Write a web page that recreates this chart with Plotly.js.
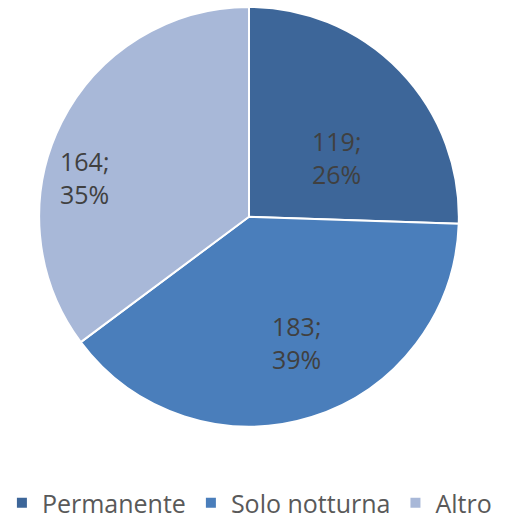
<!DOCTYPE html>
<html><head><meta charset="utf-8">
<script src="https://cdn.plot.ly/plotly-3.0.1.min.js"></script>
<style>html,body{margin:0;padding:0;background:#fff}#c{width:509px;height:526px}</style>
</head><body><div id="c"></div>
<script>
const categories = ["Permanente", "Solo notturna", "Altro"];
const values = [119, 183, 164];
const percentLabels = ["26%", "39%", "35%"];

const W = 509, H = 526;
const colors = ["#3D6699", "#4A7EBB", "#A8B8D8"];
const FONT = "'Open Sans', 'Noto Sans', sans-serif";
// label box centres in pixels (placement style, Excel best-fit)
const labelPos = [[336, 160], [296, 348], [84, 181]];

const trace = {
  type: "pie",
  labels: categories,
  values: values,
  textinfo: "none",
  sort: false,
  direction: "clockwise",
  rotation: 0,
  marker: {colors: colors, line: {color: "#ffffff", width: 2}},
  domain: {x: [38/W, 460/W], y: [1 - 434/H, 1 - 7/H]},
  hoverinfo: "none"
};

const annotations = values.map((v, i) => ({
  xref: "paper", yref: "paper",
  x: labelPos[i][0] / W, y: 1 - labelPos[i][1] / H,
  xanchor: "center", yanchor: "middle",
  text: v + ";<br>" + percentLabels[i],
  align: "left", showarrow: false,
  font: {family: FONT, size: 25, color: "#404040"}
}));

const layout = {
  width: W, height: H,
  margin: {l: 0, r: 0, t: 0, b: 0},
  paper_bgcolor: "#ffffff",
  showlegend: true,
  annotations: annotations,
  legend: {
    orientation: "h", x: 0.49, xanchor: "center", y: 1 - 512/H, yanchor: "middle",
    font: {family: FONT, size: 25, color: "#595959"},
    itemwidth: 30, tracegroupgap: 0
  }
};
Plotly.newPlot("c", [trace], layout, {displayModeBar: false, staticPlot: true});
</script></body></html>
